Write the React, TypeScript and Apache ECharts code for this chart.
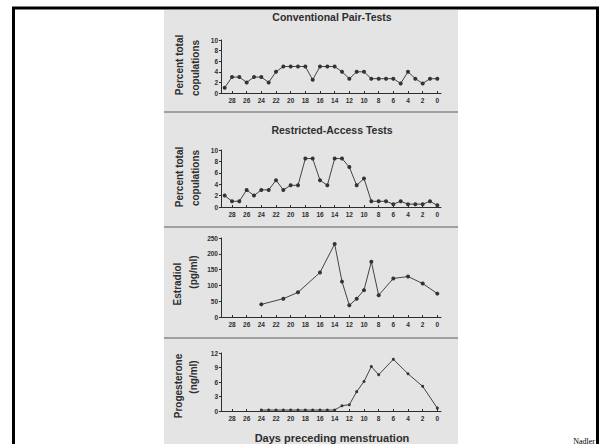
import React, { useEffect, useRef } from "react";
import * as echarts from "echarts";

const days = ["29","28","27","26","25","24","23","22","21","20","19","18","17","16","15","14","13","12","11","10","9","8","7","6","5","4","3","2","1","0"];

const pairTests = [1, 3, 3, 2, 3, 3, 2, 4, 5, 5, 5, 5, 2.5, 5, 5, 5, 4, 2.7, 4, 4, 2.7, 2.7, 2.7, 2.7, 1.8, 4, 2.7, 1.8, 2.7, 2.7];
const restrictedTests = [2, 1, 1, 3, 2, 3, 3, 4.7, 3, 3.8, 3.8, 8.5, 8.5, 4.7, 3.8, 8.5, 8.5, 7, 3.8, 5, 1, 1, 1, 0.5, 1, 0.5, 0.5, 0.5, 1, 0.3];
const estradiol = [null, null, null, null, null, 40, null, null, 58, null, 78, null, null, 141, null, 231, 112, 37, 58, 85, 175, 69, null, 122, null, 128, null, 106, null, 74];
const progesterone = [null, null, null, null, null, 0.2, 0.2, 0.2, 0.2, 0.2, 0.2, 0.2, 0.2, 0.2, 0.2, 0.2, 1.1, 1.3, 4.0, 6.1, 9.2, 7.5, null, 10.7, null, 7.7, null, 5.1, null, 0.6];

const panelTitles = ["Conventional Pair-Tests", "Restricted-Access Tests"];
const yTitles = [
  ["Percent total", "copulations"],
  ["Percent total", "copulations"],
  ["Estradiol", "(pg/ml)"],
  ["Progesterone", "(ng/ml)"],
];
const xTitle = "Days preceding menstruation";
const credit = "Nadler";

const INK = "#2e2e2e";
const FONT = "Liberation Sans, Arial, sans-serif";

export default function App() {
  const ref = useRef<HTMLDivElement>(null);
  useEffect(() => {
    document.body.style.margin = "0";
    const chart = echarts.init(ref.current!, null, { renderer: "svg" });
    const grids = [
      { left: 221, width: 220, top: 40, height: 53 },
      { left: 221, width: 220, top: 150, height: 57 },
      { left: 221, width: 220, top: 238, height: 79 },
      { left: 221, width: 220, top: 353, height: 58 },
    ];
    const yRanges = [
      { max: 10, interval: 2 },
      { max: 10, interval: 2 },
      { max: 250, interval: 50 },
      { max: 12, interval: 3 },
    ];
    const seriesData = [pairTests, restrictedTests, estradiol, progesterone];
    const titlePos = [
      [[179, 65], [195, 68]],
      [[179, 177], [195, 178]],
      [[177, 284], [193, 272]],
      [[178, 386], [193, 377]],
    ];

    const graphic: any[] = [
      { type: "rect", z: -10, silent: true, shape: { x: 164, y: 10, width: 294, height: 440 }, style: { fill: "#e4e4e4" } },
      { type: "rect", z: 10, silent: true, shape: { x: 13.5, y: 8, width: 584, height: 460 }, style: { fill: "none", stroke: "#000", lineWidth: 3 } },
      { type: "line", silent: true, shape: { x1: 164, y1: 112, x2: 458, y2: 112 }, style: { stroke: "#a0a0a0", lineWidth: 2 } },
      { type: "line", silent: true, shape: { x1: 164, y1: 227, x2: 458, y2: 227 }, style: { stroke: "#a0a0a0", lineWidth: 2 } },
      { type: "line", silent: true, shape: { x1: 164, y1: 338, x2: 458, y2: 338 }, style: { stroke: "#a0a0a0", lineWidth: 2 } },
      { type: "text", x: 332, y: 17, style: { text: panelTitles[0], fill: INK, fontSize: 10.5, fontWeight: "bold", fontFamily: FONT, textAlign: "center", textVerticalAlign: "middle" } },
      { type: "text", x: 332, y: 130, style: { text: panelTitles[1], fill: INK, fontSize: 10.5, fontWeight: "bold", fontFamily: FONT, textAlign: "center", textVerticalAlign: "middle" } },
      { type: "text", x: 332, y: 438, style: { text: xTitle, fill: INK, fontSize: 11, fontWeight: "bold", fontFamily: FONT, textAlign: "center", textVerticalAlign: "middle" } },
      { type: "text", x: 595, y: 441, style: { text: credit, fill: "#000", fontSize: 8, fontFamily: "Liberation Serif, Times New Roman, serif", textAlign: "right", textVerticalAlign: "middle" } },
    ];
    yTitles.forEach((lines, i) => {
      lines.forEach((t, j) => {
        graphic.push({
          type: "text",
          x: titlePos[i][j][0],
          y: titlePos[i][j][1],
          rotation: Math.PI / 2,
          style: { text: t, fill: INK, fontSize: 10, fontWeight: "bold", fontFamily: FONT, textAlign: "center", textVerticalAlign: "middle" },
        });
      });
    });

    chart.setOption({
      animation: false,
      grid: grids,
      xAxis: grids.map((_, i) => ({
        type: "category",
        gridIndex: i,
        data: days,
        boundaryGap: true,
        axisLine: { lineStyle: { color: INK, width: 1 } },
        axisTick: { show: true, inside: true, length: 2, alignWithLabel: true, lineStyle: { color: INK } },
        axisLabel: {
          interval: (index: number) => index % 2 === 1,
          fontSize: 6.5,
          fontWeight: "bold",
          color: INK,
          fontFamily: FONT,
          margin: 4,
        },
        splitLine: { show: false },
      })),
      yAxis: grids.map((_, i) => ({
        type: "value",
        gridIndex: i,
        min: 0,
        max: yRanges[i].max,
        interval: yRanges[i].interval,
        axisLine: { show: true, lineStyle: { color: INK, width: 1 } },
        axisTick: { show: true, length: 2, lineStyle: { color: INK } },
        axisLabel: { fontSize: 6.5, fontWeight: "bold", color: INK, fontFamily: FONT, margin: 3 },
        splitLine: { show: false },
      })),
      series: seriesData.map((d, i) => ({
        type: "line",
        xAxisIndex: i,
        yAxisIndex: i,
        data: d,
        connectNulls: true,
        symbol: "circle",
        symbolSize: i === 3 ? 3 : 4,
        lineStyle: { color: "#444", width: 1 },
        itemStyle: { color: "#333" },
      })),
      graphic,
    });
    return () => chart.dispose();
  }, []);
  return <div ref={ref} style={{ width: 600, height: 444, background: "#fff" }} />;
}
